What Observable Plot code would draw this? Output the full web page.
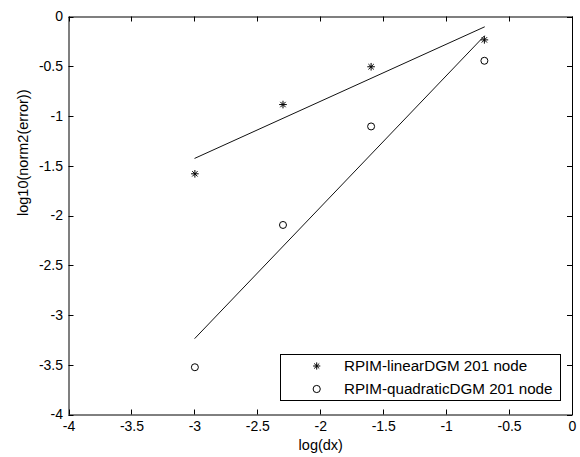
<!DOCTYPE html>
<html>
<head>
<meta charset="utf-8">
<script src="https://cdn.jsdelivr.net/npm/d3@7"></script>
<script src="https://cdn.jsdelivr.net/npm/@observablehq/plot@0.6"></script>
<style>
  html, body { margin: 0; padding: 0; background: #fff; }
  #chart { width: 580px; height: 457px; }
</style>
</head>
<body>
<div id="chart"></div>
<script>
// Data
const dxLog = [-3.0, -2.3, -1.6, -0.7];
const linearErr = [-1.576, -0.88, -0.50, -0.23];
const quadraticErr = [-3.52, -2.09, -1.10, -0.44];
// fitted line endpoints
const fitX = [-3.0, -0.7];
const linearFitY = [-1.42, -0.10];
const quadraticFitY = [-3.23, -0.19];

const xTicks = [-4, -3.5, -3, -2.5, -2, -1.5, -1, -0.5, 0];
const yTicks = [-4, -3.5, -3, -2.5, -2, -1.5, -1, -0.5, 0];
const seriesNames = ["RPIM-linearDGM 201 node", "RPIM-quadraticDGM 201 node"];
const xLabel = "log(dx)";
const yLabel = "log10(norm2(error))";

const linPts = dxLog.map((x, i) => ({x, y: linearErr[i]}));
const quadPts = dxLog.map((x, i) => ({x, y: quadraticErr[i]}));
const linFit = fitX.map((x, i) => ({x, y: linearFitY[i]}));
const quadFit = fitX.map((x, i) => ({x, y: quadraticFitY[i]}));
const fmt = d => String(d);

// MATLAB-style "*" marker: plus and cross combined (8 arms)
const star8 = {
  draw(context, size) {
    const r = Math.sqrt(size / Math.PI);
    for (let k = 0; k < 4; ++k) {
      const a = k * Math.PI / 4;
      const dx = r * Math.cos(a), dy = r * Math.sin(a);
      context.moveTo(-dx, -dy);
      context.lineTo(dx, dy);
    }
  }
};

const mL = 68.5, mR = 8, mT = 16.5, mB = 42.5, W = 580, H = 457;

const plot = Plot.plot({
  width: W,
  height: H,
  marginLeft: mL,
  marginRight: mR,
  marginTop: mT,
  marginBottom: mB,
  x: {domain: [-4, 0]},
  y: {domain: [-4, 0]},
  style: {fontFamily: "'Liberation Sans', Arial, sans-serif", fontSize: "14px", color: "black", background: "white", overflow: "visible"},
  marks: [
    Plot.axisX(xTicks, {anchor: "bottom", tickSize: 0, tickPadding: 6, tickFormat: fmt, label: null, fontSize: 14}),
    Plot.axisY(yTicks, {anchor: "left", tickSize: 0, tickPadding: 6, tickFormat: fmt, label: null, fontSize: 14}),
    Plot.frame({stroke: "black", strokeWidth: 1}),
    Plot.line(linFit, {x: "x", y: "y", stroke: "#111", strokeWidth: 1}),
    Plot.line(quadFit, {x: "x", y: "y", stroke: "#111", strokeWidth: 1}),
    Plot.dot(linPts, {x: "x", y: "y", symbol: star8, r: 3.8, stroke: "black", strokeWidth: 1}),
    Plot.dot(quadPts, {x: "x", y: "y", symbol: "circle", r: 3.5, stroke: "black", fill: "none", strokeWidth: 1}),
    Plot.text([xLabel], {frameAnchor: "bottom", dy: 35, fontSize: 14.5, text: d => d}),
    Plot.text([yLabel], {frameAnchor: "left", dx: -46, rotate: -90, fontSize: 14.5, text: d => d})
  ]
});

const svg = d3.select(plot);
const sx = plot.scale("x"), sy = plot.scale("y");
const tl = 5;
// inward ticks on all four sides (MATLAB box style)
const tg = svg.append("g").attr("stroke", "black").attr("stroke-width", 1);
xTicks.forEach(t => {
  const px = Math.round(sx.apply(t)) + 0.5;
  tg.append("line").attr("x1", px).attr("x2", px).attr("y1", H - mB).attr("y2", H - mB - tl);
  tg.append("line").attr("x1", px).attr("x2", px).attr("y1", mT).attr("y2", mT + tl);
});
yTicks.forEach(t => {
  const py = Math.round(sy.apply(t)) + 0.5;
  tg.append("line").attr("y1", py).attr("y2", py).attr("x1", mL).attr("x2", mL + tl);
  tg.append("line").attr("y1", py).attr("y2", py).attr("x1", W - mR).attr("x2", W - mR - tl);
});

// Legend inside the axes (bottom-right)
const lg = svg.append("g").attr("font-family", "'Liberation Sans', Arial, sans-serif").attr("font-size", 15.2).attr("text-anchor", "start");
lg.append("rect").attr("x", 280.5).attr("y", 354.5).attr("width", 280).attr("height", 46)
  .attr("fill", "white").attr("stroke", "black").attr("stroke-width", 1);
const sym = [star8, d3.symbolCircle];
seriesNames.forEach((name, i) => {
  const cy = 366 + i * 23;
  lg.append("path").attr("transform", `translate(316.7,${cy})`)
    .attr("d", d3.symbol(sym[i], Math.PI * 3.6 * 3.6)())
    .attr("fill", "none").attr("stroke", "black").attr("stroke-width", 1);
  lg.append("text").attr("x", 344).attr("y", cy).attr("dy", "0.35em").attr("fill", "black").text(name);
});

document.getElementById("chart").appendChild(plot);
</script>
</body>
</html>
